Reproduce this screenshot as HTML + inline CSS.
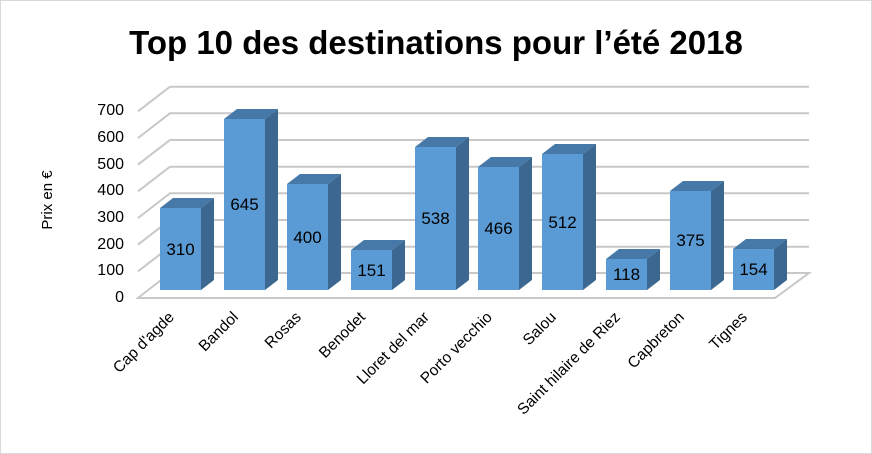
<!DOCTYPE html>
<html><head><style>body{margin:0;background:#fff}svg{display:block}</style></head><body>
<svg width="872" height="454" xmlns="http://www.w3.org/2000/svg" font-family="Liberation Sans, sans-serif">
<rect x="0.5" y="0.5" width="871" height="453" fill="#fff" stroke="#d9d9d9"/>
<text x="436" y="54" text-anchor="middle" font-size="33" font-weight="bold" fill="#000">Top 10 des destinations pour l’été 2018</text>
<g stroke="#c8c8c8" stroke-width="2" fill="none">
<path d="M138 298 L170 273 L809 273 L775 298 Z"/>
<path d="M138 271.3 L170 246.7 H809"/>
<path d="M138 244.6 L170 220 H809"/>
<path d="M138 218 L170 193.3 H809"/>
<path d="M138 191.3 L170 166.7 H809"/>
<path d="M138 164.6 L170 140 H809"/>
<path d="M138 138 L170 113.3 H809"/>
<path d="M138 111.3 L170 86.7 H809"/>
</g>
<g font-size="16" fill="#000" text-anchor="end">
<text x="124" y="302">0</text><text x="124" y="275">100</text><text x="124" y="249">200</text><text x="124" y="222">300</text><text x="124" y="195">400</text><text x="124" y="169">500</text><text x="124" y="142">600</text><text x="124" y="115">700</text>
</g>
<text transform="translate(52,200) rotate(-90)" text-anchor="middle" font-size="15">Prix en €</text>
<g>
<polygon fill="#3b6790" points="201,290 214,280 214,198 201,208"/><polygon fill="#4678a8" points="160,208 173,198 214,198 201,208"/><rect fill="#5b9bd5" x="160" y="208" width="41" height="82"/>
<polygon fill="#3b6790" points="265,290 278,280 278,109 265,119"/><polygon fill="#4678a8" points="224,119 237,109 278,109 265,119"/><rect fill="#5b9bd5" x="224" y="119" width="41" height="171"/>
<polygon fill="#3b6790" points="328,290 341,280 341,174 328,184"/><polygon fill="#4678a8" points="287,184 300,174 341,174 328,184"/><rect fill="#5b9bd5" x="287" y="184" width="41" height="106"/>
<polygon fill="#3b6790" points="392,290 405,280 405,240 392,250"/><polygon fill="#4678a8" points="351,250 364,240 405,240 392,250"/><rect fill="#5b9bd5" x="351" y="250" width="41" height="40"/>
<polygon fill="#3b6790" points="456,290 469,280 469,137 456,147"/><polygon fill="#4678a8" points="415,147 428,137 469,137 456,147"/><rect fill="#5b9bd5" x="415" y="147" width="41" height="143"/>
<polygon fill="#3b6790" points="519,290 532,280 532,157 519,167"/><polygon fill="#4678a8" points="478,167 491,157 532,157 519,167"/><rect fill="#5b9bd5" x="478" y="167" width="41" height="123"/>
<polygon fill="#3b6790" points="583,290 596,280 596,144 583,154"/><polygon fill="#4678a8" points="542,154 555,144 596,144 583,154"/><rect fill="#5b9bd5" x="542" y="154" width="41" height="136"/>
<polygon fill="#3b6790" points="647,290 660,280 660,249 647,259"/><polygon fill="#4678a8" points="606,259 619,249 660,249 647,259"/><rect fill="#5b9bd5" x="606" y="259" width="41" height="31"/>
<polygon fill="#3b6790" points="711,290 724,280 724,181 711,191"/><polygon fill="#4678a8" points="670,191 683,181 724,181 711,191"/><rect fill="#5b9bd5" x="670" y="191" width="41" height="99"/>
<polygon fill="#3b6790" points="774,290 787,280 787,239 774,249"/><polygon fill="#4678a8" points="733,249 746,239 787,239 774,249"/><rect fill="#5b9bd5" x="733" y="249" width="41" height="41"/>
</g>
<g font-size="17" text-anchor="middle" fill="#000">
<text x="180.5" y="255">310</text><text x="244.5" y="210">645</text><text x="307.5" y="243">400</text><text x="371.5" y="276">151</text><text x="435.5" y="224">538</text><text x="498.5" y="234">466</text><text x="562.5" y="228">512</text><text x="626.5" y="280">118</text><text x="690.5" y="246">375</text><text x="753.5" y="275">154</text>
</g>
<g font-size="15.5" text-anchor="end" fill="#000">
<text transform="translate(175,318) rotate(-45)">Cap d'agde</text>
<text transform="translate(239,318) rotate(-45)">Bandol</text>
<text transform="translate(302,318) rotate(-45)">Rosas</text>
<text transform="translate(366,318) rotate(-45)">Benodet</text>
<text transform="translate(430,318) rotate(-45)">Lloret del mar</text>
<text transform="translate(493,318) rotate(-45)">Porto vecchio</text>
<text transform="translate(557,318) rotate(-45)">Salou</text>
<text transform="translate(621,318) rotate(-45)">Saint hilaire de Riez</text>
<text transform="translate(685,318) rotate(-45)">Capbreton</text>
<text transform="translate(748,318) rotate(-45)">Tignes</text>
</g>
</svg>
</body></html>
